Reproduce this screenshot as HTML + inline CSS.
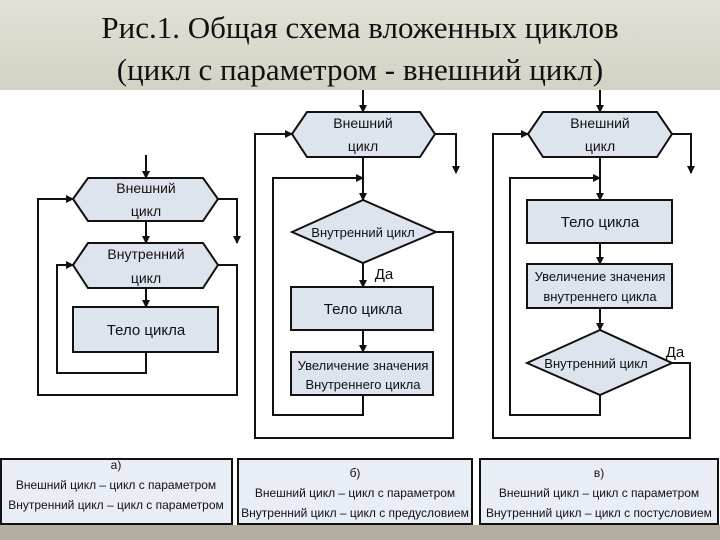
<!DOCTYPE html>
<html><head><meta charset="utf-8"><style>
html,body{margin:0;padding:0;width:720px;height:540px;overflow:hidden;background:#fff}
</style></head><body>
<svg width="720" height="540" xmlns="http://www.w3.org/2000/svg" font-family="'Liberation Sans','DejaVu Sans',sans-serif">
<defs>
<linearGradient id="bg" x1="0" y1="0" x2="0" y2="1"><stop offset="0" stop-color="#e3e1d6"/><stop offset="1" stop-color="#d4d2c4"/></linearGradient>
<marker id="a" markerWidth="8" markerHeight="8" refX="7" refY="4" orient="auto" markerUnits="userSpaceOnUse"><path d="M0,0L8,4L0,8z" fill="#111"/></marker>
</defs>
<rect x="0" y="0" width="720" height="90" fill="url(#bg)"/>
<text x="360" y="38" font-family="'Liberation Serif',serif" font-size="31" text-anchor="middle" fill="#111">Рис.1. Общая схема вложенных циклов</text>
<text x="360" y="80" font-family="'Liberation Serif',serif" font-size="31" text-anchor="middle" fill="#111">(цикл с параметром - внешний цикл)</text>
<rect x="0" y="525" width="720" height="15" fill="#b3ae9f"/>
<g stroke="#111" stroke-width="2" fill="none">
<polygon points="73,199 88,178 203,178 218,199 203,221 88,221" fill="#dde4ee"/>
<polygon points="73,265 88,243 203,243 218,265 203,288 88,288" fill="#dde4ee"/>
<rect x="73" y="307" width="145" height="45" fill="#dde4ee"/>
<line x1="146" y1="155" x2="146" y2="178" marker-end="url(#a)"/>
<line x1="146" y1="221" x2="146" y2="243" marker-end="url(#a)"/>
<line x1="146" y1="288" x2="146" y2="307" marker-end="url(#a)"/>
<polyline points="218,199 237,199 237,243" marker-end="url(#a)"/>
<polyline points="218,265 237,265 237,395 38,395 38,199 73,199" marker-end="url(#a)"/>
<polyline points="146,352 146,373 57,373 57,265 73,265" marker-end="url(#a)"/>
<polygon points="292,134 307,112 420,112 435,134 420,157 307,157" fill="#dde4ee"/>
<polygon points="292,232 363,200 436,232 363,263" fill="#dde4ee"/>
<rect x="291" y="287" width="142" height="43" fill="#dde4ee"/>
<rect x="291" y="352" width="142" height="43" fill="#dde4ee"/>
<line x1="363" y1="90" x2="363" y2="112" marker-end="url(#a)"/>
<line x1="363" y1="157" x2="363" y2="200" marker-end="url(#a)"/>
<line x1="363" y1="263" x2="363" y2="287" marker-end="url(#a)"/>
<line x1="363" y1="330" x2="363" y2="352" marker-end="url(#a)"/>
<polyline points="435,134 456,134 456,173" marker-end="url(#a)"/>
<polyline points="436,232 453,232 453,438 255,438 255,134 292,134" marker-end="url(#a)"/>
<polyline points="363,395 363,415 273,415 273,178 363,178" marker-end="url(#a)"/>
<polygon points="528,134 543,112 657,112 672,134 657,157 543,157" fill="#dde4ee"/>
<rect x="527" y="200" width="145" height="43" fill="#dde4ee"/>
<rect x="527" y="264" width="145" height="44" fill="#dde4ee"/>
<polygon points="527,363 600,330 672,363 600,395" fill="#dde4ee"/>
<line x1="600" y1="90" x2="600" y2="112" marker-end="url(#a)"/>
<line x1="600" y1="157" x2="600" y2="200" marker-end="url(#a)"/>
<line x1="600" y1="243" x2="600" y2="264" marker-end="url(#a)"/>
<line x1="600" y1="308" x2="600" y2="330" marker-end="url(#a)"/>
<polyline points="672,134 691,134 691,173" marker-end="url(#a)"/>
<polyline points="672,363 690,363 690,438 493,438 493,134 528,134" marker-end="url(#a)"/>
<polyline points="600,395 600,415 510,415 510,178 600,178" marker-end="url(#a)"/>
<rect x="1" y="459" width="231" height="65" fill="#e9edf6"/>
<rect x="238" y="459" width="234" height="65" fill="#e9edf6"/>
<rect x="480" y="459" width="238" height="65" fill="#e9edf6"/>
</g>
<g fill="#111" font-size="14" text-anchor="middle">
<text x="146" y="193">Внешний</text><text x="146" y="216">цикл</text>
<text x="146" y="259">Внутренний</text><text x="146" y="283">цикл</text>
<text x="146" y="335" font-size="15">Тело цикла</text>
<text x="363" y="128">Внешний</text><text x="363" y="151">цикл</text>
<text x="363" y="237" font-size="13">Внутренний цикл</text>
<text x="384" y="279" font-size="15">Да</text>
<text x="363" y="314" font-size="15">Тело цикла</text>
<text x="363" y="370" font-size="13">Увеличение значения</text>
<text x="363" y="389" font-size="13">Внутреннего цикла</text>
<text x="600" y="128">Внешний</text><text x="600" y="151">цикл</text>
<text x="600" y="227" font-size="15">Тело цикла</text>
<text x="600" y="281" font-size="13">Увеличение значения</text>
<text x="600" y="301" font-size="13">внутреннего цикла</text>
<text x="596" y="368" font-size="13">Внутренний цикл</text>
<text x="675" y="357" font-size="15">Да</text>
<g font-size="12">
<text x="116" y="469">а)</text>
<text x="116" y="489">Внешний цикл – цикл с параметром</text>
<text x="116" y="509">Внутренний цикл – цикл с параметром</text>
<text x="355" y="477">б)</text>
<text x="355" y="497">Внешний цикл – цикл с параметром</text>
<text x="355" y="517">Внутренний цикл – цикл с предусловием</text>
<text x="599" y="477">в)</text>
<text x="599" y="497">Внешний цикл – цикл с параметром</text>
<text x="599" y="517">Внутренний цикл – цикл с постусловием</text>
</g>
</g>
</svg>
</body></html>
